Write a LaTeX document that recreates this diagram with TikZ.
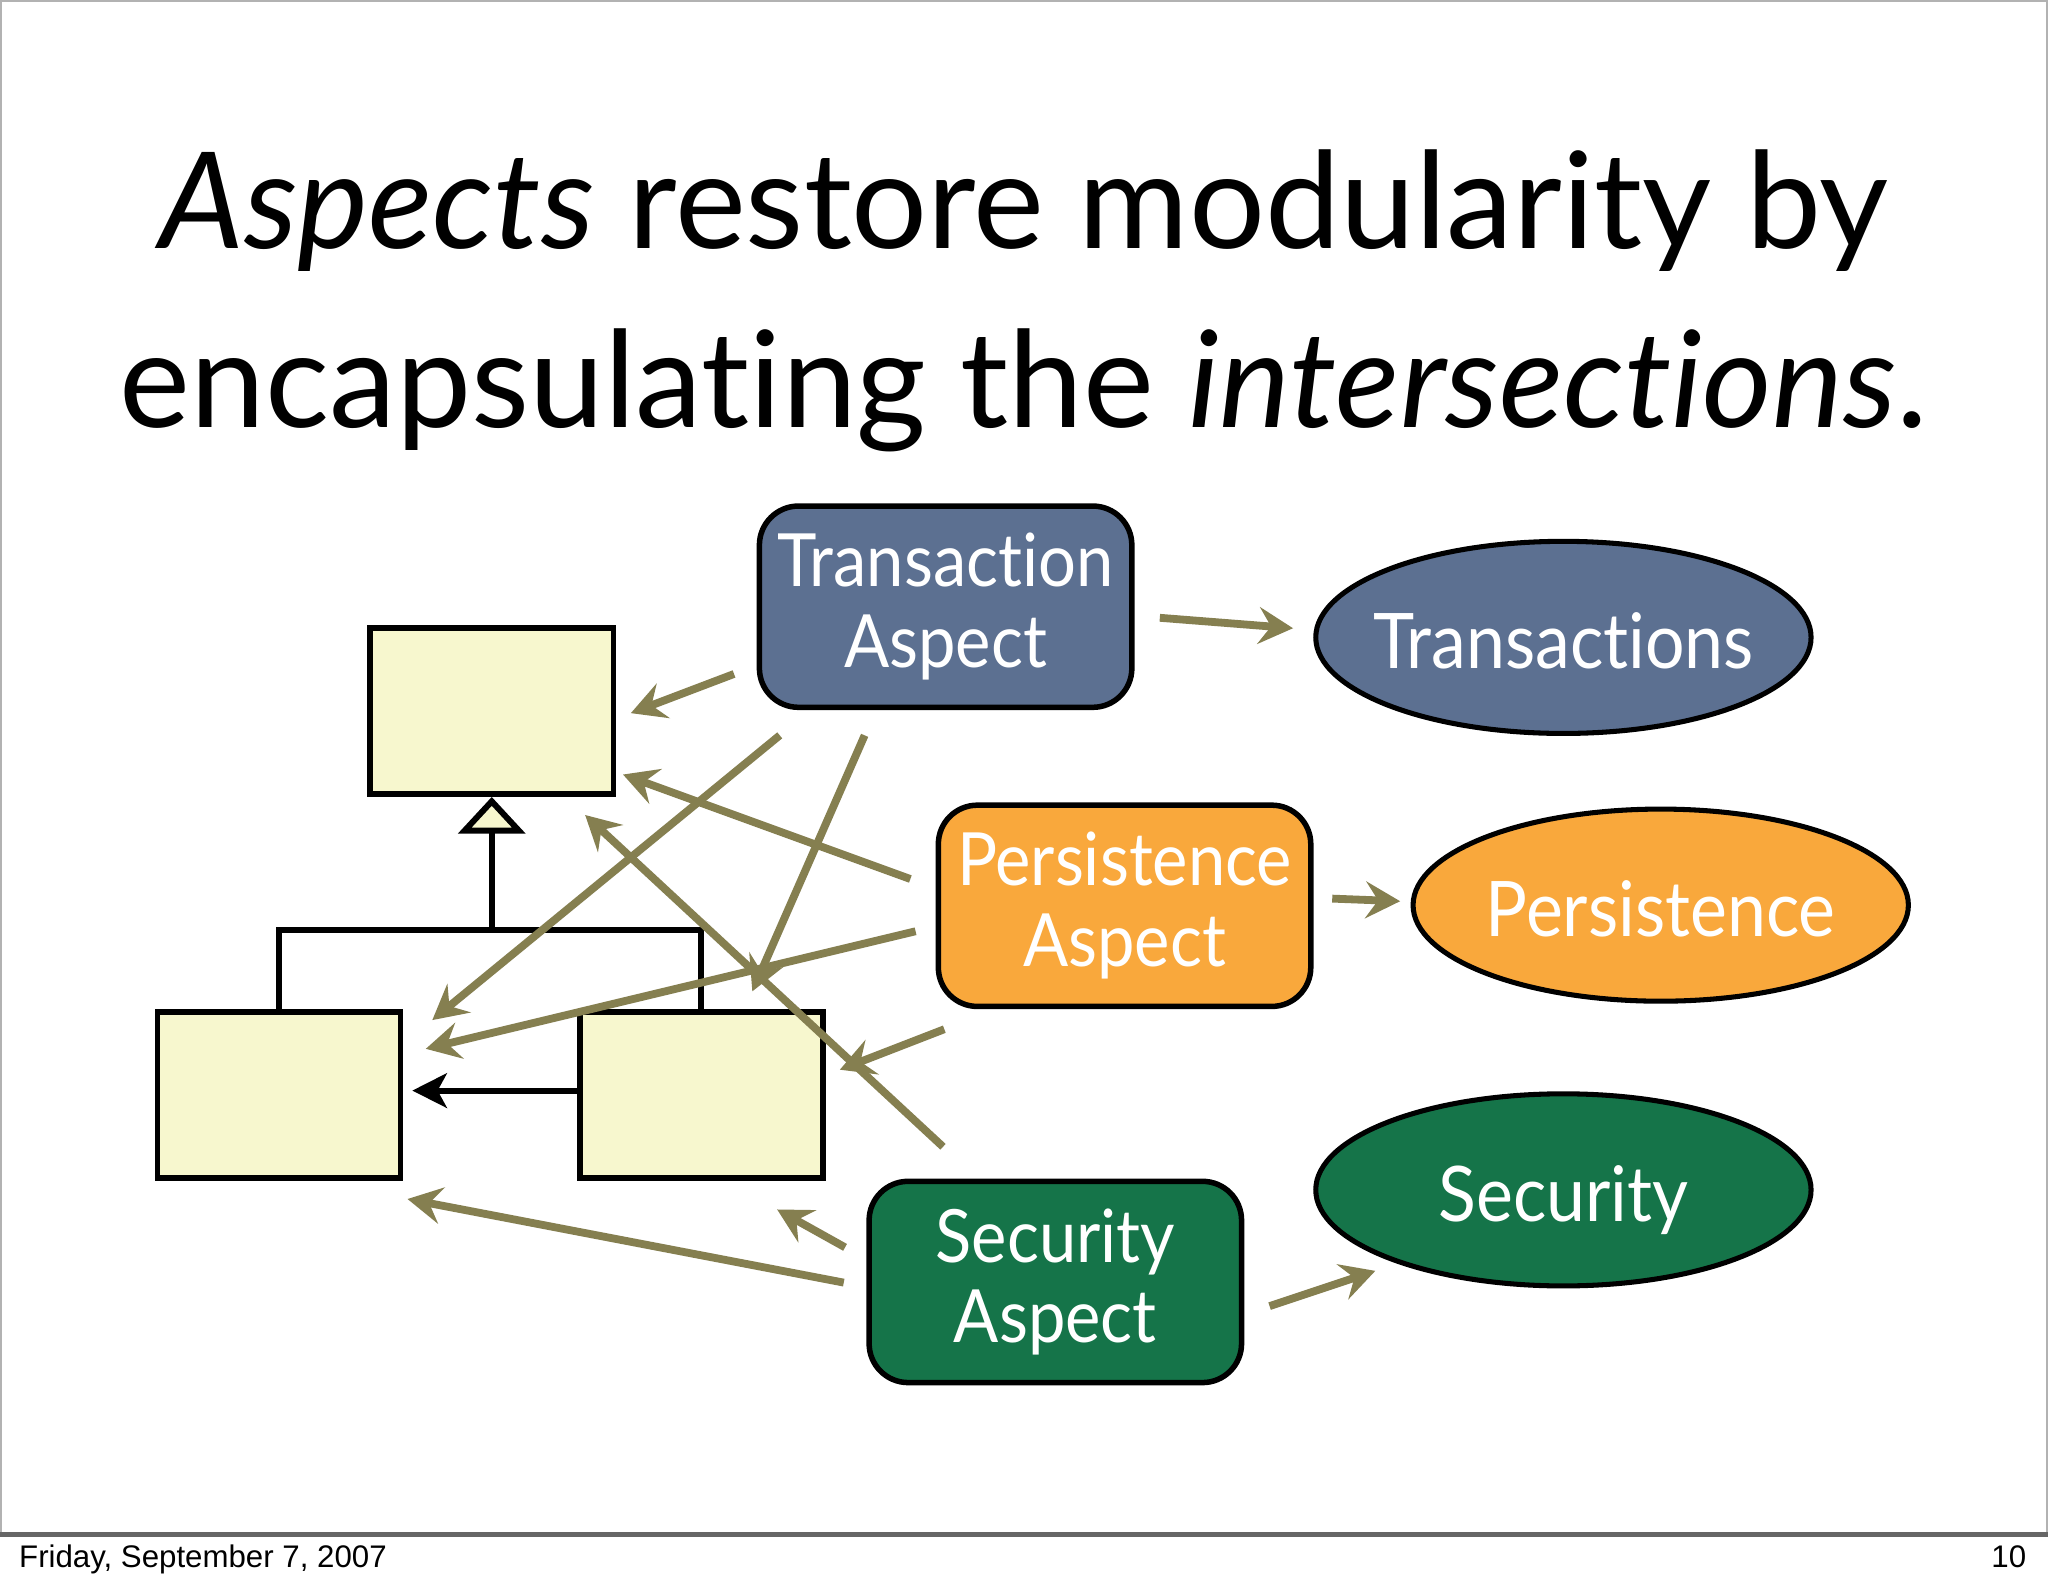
\documentclass[tikz,border=0pt]{standalone}
\usepackage{fontspec}
\setmainfont[Ligatures=NoCommon]{Lato}
\newfontfamily\boxfont[FakeStretch=0.91, Ligatures=NoCommon]{Lato}
\newfontfamily\footfont{Liberation Sans}
\usetikzlibrary{arrows.meta,shapes.geometric,positioning}

\definecolor{classfill}{RGB}{247,247,206}
\definecolor{txblue}{RGB}{92,112,145}
\definecolor{psorange}{RGB}{249,168,60}
\definecolor{secgreen}{RGB}{21,116,73}
\definecolor{weavecol}{RGB}{133,127,80}

\begin{document}
\begin{tikzpicture}
  [x=0.01cm, y=-0.01cm,
    klass/.style={
      draw=black, line width=1.2pt,
      fill=classfill,
      minimum width=1.86cm, minimum height=1.27cm,
      inner sep=0pt
    },
    aspect/.style={
      draw=black, line width=1.2pt,
      rounded corners=8.5pt,
      minimum width=2.85cm, minimum height=1.54cm,
      inner sep=1pt,
      text=white, align=center,
      font=\boxfont\fontsize{16}{17.6}\selectfont
    },
    concern/.style={
      ellipse, draw=black, line width=1.1pt,
      minimum width=3.79cm, minimum height=1.47cm,
      inner sep=0pt, text height=13.6pt, text depth=0pt,
      text=white,
      font=\boxfont\fontsize{16.7}{18}\selectfont
    },
    uml/.style={
      draw=black, line width=1.3pt, line join=miter
    },
    weave/.style={
      draw=weavecol, line width=1.7pt,
      -{Stealth[length=7.5pt,width=8pt,inset=2.7pt]}
    },
    title/.style={
      anchor=base, inner sep=0pt,
      font=\fontsize{29.2}{34}\selectfont
    },
    footer/.style={
      inner sep=0pt,
      font=\footfont\fontsize{6.8}{8}\selectfont
    }
  ]
  \useasboundingbox (0,0) rectangle (1568,1215);
  \fill[white] (0,0) rectangle (1568,1215);
  \draw[gray!60, line width=0.5pt] (0.5,0.5) rectangle (1567.5,1175);
  \draw[gray!80!black, line width=1pt] (0,1175) -- (1568,1175);

  % title
  \node[title] (line1) at (784,190) {\textit{Aspects} restore modularity by};
  \node[title] (line2) at (784,327) {encapsulating the \textit{intersections}.};

  % class hierarchy
  \node[klass] (top) at (376.5,544.5) {};
  \node[klass] (left) at (213.5,838.5) {};
  \node[klass] (right) at (537,838.5) {};
  \coordinate (fork) at (376.5,712);
  \draw[uml] (left.north) |- (fork) -| (right.north);
  \draw[uml, -{Triangle[length=8pt,width=14.5pt,fill=classfill]}] (fork) -- (top.south);
  \draw[uml, -{Stealth[length=7.5pt,width=7.5pt,inset=2pt]}, shorten >=2pt]
    ([yshift=1pt]right.west) -- ([yshift=1pt]left.east);

  % aspects and concerns
  \node[aspect, fill=txblue] (ta) at (724,464.5) {Transaction\\Aspect};
  \node[aspect, fill=psorange] (pa) at (861,693.5) {Persistence\\Aspect};
  \node[aspect, fill=secgreen] (sa) at (808,981.5) {Security\\Aspect};
  \node[concern, fill=txblue] (tx) at (1197,488) {\makebox[0pt]{Transactions}};
  \node[concern, fill=psorange] (ps) at (1271.5,693) {\makebox[0pt]{Persistence}};
  \node[concern, fill=secgreen] (sc) at (1197,911) {\makebox[0pt]{Security}};

  % arrow ends
  \coordinate (ta1) at (562,516);  \coordinate (c1) at (483,546);
  \coordinate (ta2) at (597,563);  \coordinate (c2) at (331,781);
  \coordinate (ta3) at (662,563);  \coordinate (c3) at (576,759);
  \coordinate (ta4) at (888,473);  \coordinate (c4) at (990,481);
  \coordinate (pa1) at (697,673);  \coordinate (c5) at (477,593);
  \coordinate (pa2) at (701,713);  \coordinate (c6) at (326,803);
  \coordinate (pa3) at (723,788);  \coordinate (c7) at (643,819);
  \coordinate (pa4) at (1020,688); \coordinate (c8) at (1072,690);
  \coordinate (sa1) at (722,878);  \coordinate (c9) at (448,624);
  \coordinate (sa2) at (647,955);  \coordinate (c10) at (595,926);
  \coordinate (sa3) at (646,982);  \coordinate (c11) at (312,918);
  \coordinate (sa4) at (972,1000); \coordinate (c12) at (1053,973);

  % weaving
  \draw[weave] (ta1) -- (c1);
  \draw[weave] (ta2) -- (c2);
  \draw[weave] (ta3) -- (c3);
  \draw[weave] (ta4) -- (c4);
  \draw[weave] (pa1) -- (c5);
  \draw[weave] (pa2) -- (c6);
  \draw[weave] (pa3) -- (c7);
  \draw[weave] (pa4) -- (c8);
  \draw[weave] (sa1) -- (c9);
  \draw[weave] (sa2) -- (c10);
  \draw[weave] (sa3) -- (c11);
  \draw[weave] (sa4) -- (c12);

  % footer
  \node[footer, anchor=base west] (date) at (14,1200) {Friday, September 7, 2007};
  \node[footer, anchor=base east] (page) at (1552,1200) {10};
\end{tikzpicture}
\end{document}
